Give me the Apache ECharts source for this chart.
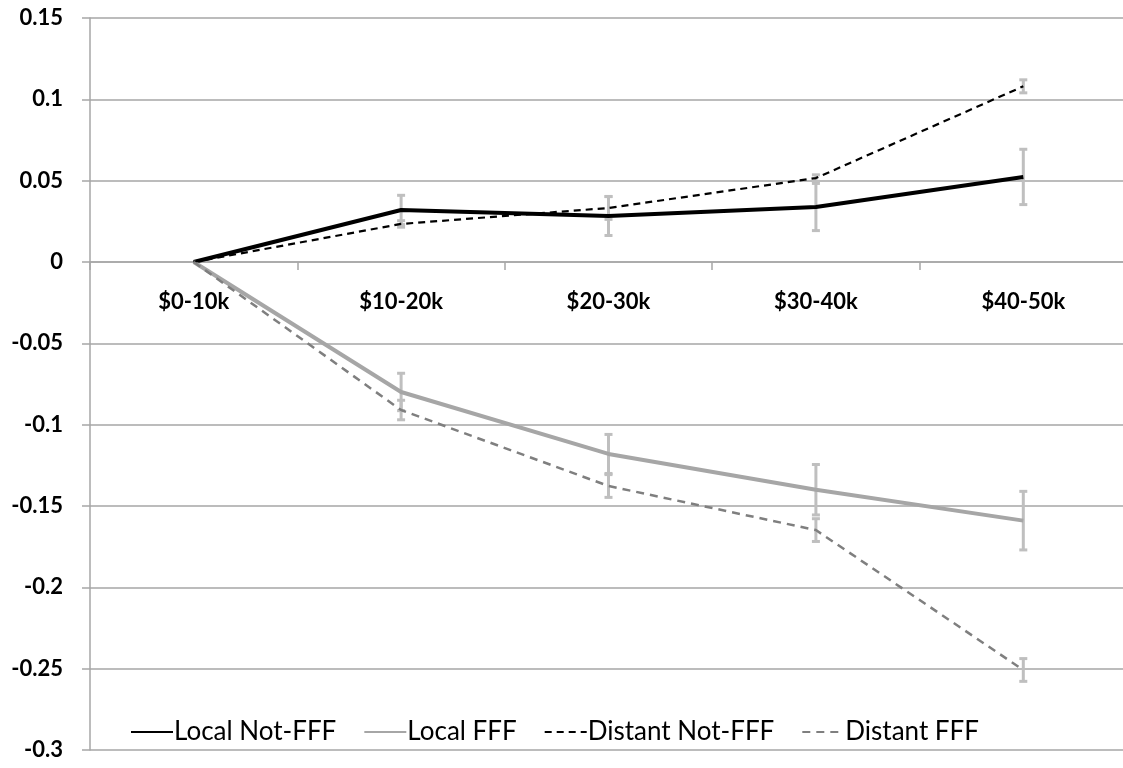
<!DOCTYPE html>
<html><head><meta charset="utf-8">
<script src="https://cdn.jsdelivr.net/npm/echarts@6/dist/echarts.min.js"></script>
<style>html,body{margin:0;padding:0;background:#fff}#c{width:1123px;height:768px}</style>
</head><body><div id="c"></div>
<script>
const categories = ['$0-10k', '$10-20k', '$20-30k', '$30-40k', '$40-50k'];
const localNotFFF = [0, 0.032, 0.0283, 0.0338, 0.0523];
const localFFF = [0, -0.0799, -0.118, -0.140, -0.159];
const distantNotFFF = [0, 0.0234, 0.0332, 0.0516, 0.108];
const distantFFF = [0, -0.091, -0.1377, -0.1648, -0.2508];
const errLocalNotFFF = [0, 0.009, 0.012, 0.0145, 0.017];
const errLocalFFF = [0, 0.0115, 0.012, 0.0155, 0.018];
const errDistantNotFFF = [0, 0.002, 0.007, 0.002, 0.004];
const errDistantFFF = [0, 0.006, 0.007, 0.007, 0.007];
const yMin = -0.3, yMax = 0.15, yStep = 0.05;

const FONT = 'Lato, "Open Sans", sans-serif';
const GRID_TOP = 18, GRID_H = 732;
const zeroOffset = -GRID_H * (0 - yMin) / (yMax - yMin); // move x axis up to the zero line

const chart = echarts.init(document.getElementById('c'));

function errSeries(vals, errs) {
  const data = vals.map((v, i) => [i, v - errs[i], v + errs[i]]).filter((d, i) => errs[i] > 0);
  return {
    type: 'custom', silent: true, z: 1,
    data: data,
    encode: { x: 0, y: [1, 2] },
    renderItem: function (params, api) {
      const lo = api.coord([api.value(0), api.value(1)]);
      const hi = api.coord([api.value(0), api.value(2)]);
      const cw = 4;
      const st = { stroke: '#bfbfbf', lineWidth: 3 };
      return { type: 'group', children: [
        { type: 'line', shape: { x1: lo[0], y1: lo[1], x2: hi[0], y2: hi[1] }, style: st },
        { type: 'line', shape: { x1: lo[0] - cw, y1: lo[1], x2: lo[0] + cw, y2: lo[1] }, style: st },
        { type: 'line', shape: { x1: hi[0] - cw, y1: hi[1], x2: hi[0] + cw, y2: hi[1] }, style: st }
      ]};
    }
  };
}

function lineSeries(name, vals, color, width, type) {
  return { name: name, type: 'line', data: vals, symbol: 'none', showSymbol: false, z: 3,
    lineStyle: { color: color, width: width, type: type }, itemStyle: { color: color } };
}

chart.setOption({
  animation: false,
  backgroundColor: '#fff',
  grid: { left: 90, top: GRID_TOP, width: 1037, height: GRID_H, outerBoundsMode: 'none', containLabel: false },
  legend: {
    left: 125, top: 714, itemWidth: 42, itemHeight: 14, itemGap: 27,
    itemStyle: { opacity: 0 },
    textStyle: { fontFamily: FONT, fontSize: 26, color: '#000', padding: [0, 0, 0, -4] },
    data: ['Local Not-FFF', 'Local FFF', 'Distant Not-FFF', 'Distant FFF']
  },
  xAxis: {
    type: 'category', data: categories, boundaryGap: true,
    position: 'bottom', offset: zeroOffset,
    axisLine: { onZero: false, lineStyle: { color: '#a6a6a6', width: 1.5 } },
    axisTick: { show: true, length: 8, lineStyle: { color: '#a6a6a6', width: 1.5 } },
    axisLabel: { margin: 29, fontFamily: FONT, fontWeight: 'bold', fontSize: 22, color: '#000' }
  },
  yAxis: {
    type: 'value', min: yMin, max: yMax, interval: yStep,
    axisLine: { show: true, lineStyle: { color: '#a6a6a6', width: 1.5 } },
    axisTick: { show: true, length: 8, lineStyle: { color: '#a6a6a6', width: 1.5 } },
    splitLine: { lineStyle: { color: '#a6a6a6', width: 1.5 } },
    axisLabel: { margin: 27, fontFamily: FONT, fontWeight: 'bold', fontSize: 22, color: '#000',
      formatter: function (v) { return String(parseFloat(v.toFixed(2))); } }
  },
  series: [
    errSeries(localNotFFF, errLocalNotFFF),
    errSeries(localFFF, errLocalFFF),
    errSeries(distantNotFFF, errDistantNotFFF),
    errSeries(distantFFF, errDistantFFF),
    lineSeries('Local Not-FFF', localNotFFF, '#000000', 4, 'solid'),
    lineSeries('Local FFF', localFFF, '#a6a6a6', 4, 'solid'),
    lineSeries('Distant Not-FFF', distantNotFFF, '#000000', 2.2, [7, 5]),
    lineSeries('Distant FFF', distantFFF, '#7f7f7f', 2.5, [8, 6])
  ]
});
</script></body></html>
